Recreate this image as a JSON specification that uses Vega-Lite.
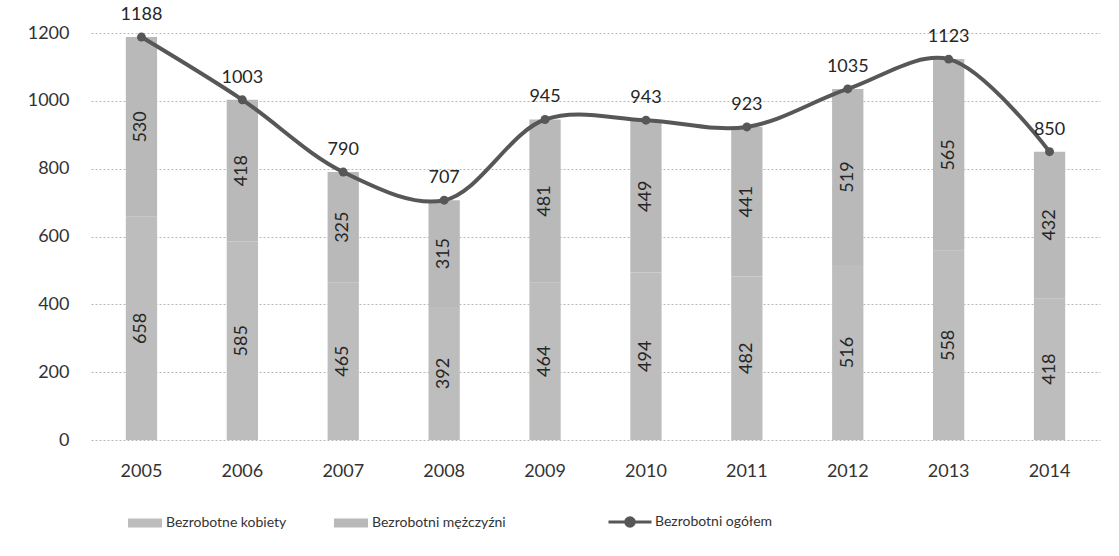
{
  "$schema": "https://vega.github.io/schema/vega-lite/v6.json",
  "width": 1009,
  "height": 407,
  "autosize": "none",
  "padding": {"left": 91, "top": 33, "right": 19, "bottom": 116},
  "background": "white",
  "config": {"font": "Lato", "view": {"stroke": null}},
  "datasets": {
    "bars": [
      {"rok": "2005", "grupa": "Bezrobotne kobiety", "liczba": 658},
      {"rok": "2005", "grupa": "Bezrobotni mężczyźni", "liczba": 530},
      {"rok": "2006", "grupa": "Bezrobotne kobiety", "liczba": 585},
      {"rok": "2006", "grupa": "Bezrobotni mężczyźni", "liczba": 418},
      {"rok": "2007", "grupa": "Bezrobotne kobiety", "liczba": 465},
      {"rok": "2007", "grupa": "Bezrobotni mężczyźni", "liczba": 325},
      {"rok": "2008", "grupa": "Bezrobotne kobiety", "liczba": 392},
      {"rok": "2008", "grupa": "Bezrobotni mężczyźni", "liczba": 315},
      {"rok": "2009", "grupa": "Bezrobotne kobiety", "liczba": 464},
      {"rok": "2009", "grupa": "Bezrobotni mężczyźni", "liczba": 481},
      {"rok": "2010", "grupa": "Bezrobotne kobiety", "liczba": 494},
      {"rok": "2010", "grupa": "Bezrobotni mężczyźni", "liczba": 449},
      {"rok": "2011", "grupa": "Bezrobotne kobiety", "liczba": 482},
      {"rok": "2011", "grupa": "Bezrobotni mężczyźni", "liczba": 441},
      {"rok": "2012", "grupa": "Bezrobotne kobiety", "liczba": 516},
      {"rok": "2012", "grupa": "Bezrobotni mężczyźni", "liczba": 519},
      {"rok": "2013", "grupa": "Bezrobotne kobiety", "liczba": 558},
      {"rok": "2013", "grupa": "Bezrobotni mężczyźni", "liczba": 565},
      {"rok": "2014", "grupa": "Bezrobotne kobiety", "liczba": 418},
      {"rok": "2014", "grupa": "Bezrobotni mężczyźni", "liczba": 432}
    ],
    "total": [
      {"rok": "2005", "ogolem": 1188},
      {"rok": "2006", "ogolem": 1003},
      {"rok": "2007", "ogolem": 790},
      {"rok": "2008", "ogolem": 707},
      {"rok": "2009", "ogolem": 945},
      {"rok": "2010", "ogolem": 943},
      {"rok": "2011", "ogolem": 923},
      {"rok": "2012", "ogolem": 1035},
      {"rok": "2013", "ogolem": 1123},
      {"rok": "2014", "ogolem": 850}
    ]
  },
  "encoding": {
    "x": {
      "field": "rok", "type": "nominal",
      "scale": {"paddingInner": 0.69, "paddingOuter": 0.345},
      "axis": {"title": null, "labelAngle": 0, "labelFontSize": 18, "labelColor": "#333333", "labelPadding": 22, "ticks": false, "domain": false}
    }
  },
  "layer": [
    {
      "data": {"name": "bars"},
      "mark": {"type": "bar"},
      "encoding": {
        "y": {
          "field": "liczba", "type": "quantitative", "stack": "zero",
          "scale": {"domain": [0, 1200], "nice": false},
          "axis": {"title": null, "values": [0, 200, 400, 600, 800, 1000, 1200], "format": "d", "labelFontSize": 18, "labelColor": "#333333", "labelPadding": 22, "ticks": false, "domain": false, "gridColor": "#b8b8b8", "gridDash": [2, 2], "gridWidth": 1}
        },
        "order": {"field": "grupa", "sort": "ascending"},
        "fill": {
          "field": "grupa", "type": "nominal",
          "scale": {"domain": ["Bezrobotne kobiety", "Bezrobotni mężczyźni"], "range": ["#bdbdbd", "#b9b9b9"]},
          "legend": {
            "title": null, "orient": "none", "legendX": 37, "legendY": 473, "direction": "horizontal",
            "symbolType": "M-1,-0.27H1V0.27H-1Z", "symbolSize": 1156, "symbolStrokeWidth": 0,
            "labelFontSize": 14, "labelColor": "#333333", "columnPadding": 47, "labelOffset": 4
          }
        }
      }
    },
    {
      "data": {"name": "bars"},
      "mark": {"type": "text", "angle": -90, "fontSize": 18, "color": "#262626"},
      "encoding": {
        "y": {"field": "liczba", "type": "quantitative", "stack": "zero", "bandPosition": 0.5},
        "detail": {"field": "grupa"},
        "order": {"field": "grupa", "sort": "ascending"},
        "text": {"field": "liczba", "type": "quantitative"}
      }
    },
    {
      "data": {"name": "total"},
      "mark": {"type": "line", "interpolate": "catmull-rom", "strokeWidth": 4},
      "encoding": {
        "y": {"field": "ogolem", "type": "quantitative"},
        "stroke": {
          "datum": "Bezrobotni ogółem",
          "scale": {"range": ["#575757"]},
          "legend": {
            "title": null, "orient": "none", "legendX": 516, "legendY": 466,
            "symbolType": "M-1,0H-0.2A0.2,0.2 0 1,1 0.2,0A0.2,0.2 0 1,1 -0.2,0ZM0.2,0H1",
            "symbolSize": 1849, "symbolStrokeWidth": 3, "symbolFillColor": "#575757",
            "labelFontSize": 14, "labelColor": "#333333", "labelOffset": 2
          }
        }
      }
    },
    {
      "data": {"name": "total"},
      "mark": {"type": "point", "shape": "circle", "filled": true, "size": 80, "color": "#575757", "opacity": 1},
      "encoding": {
        "y": {"field": "ogolem", "type": "quantitative"}
      }
    },
    {
      "data": {"name": "total"},
      "mark": {"type": "text", "fontSize": 18, "color": "#262626", "dy": -22},
      "encoding": {
        "y": {"field": "ogolem", "type": "quantitative"},
        "text": {"field": "ogolem", "type": "quantitative"}
      }
    }
  ]
}
